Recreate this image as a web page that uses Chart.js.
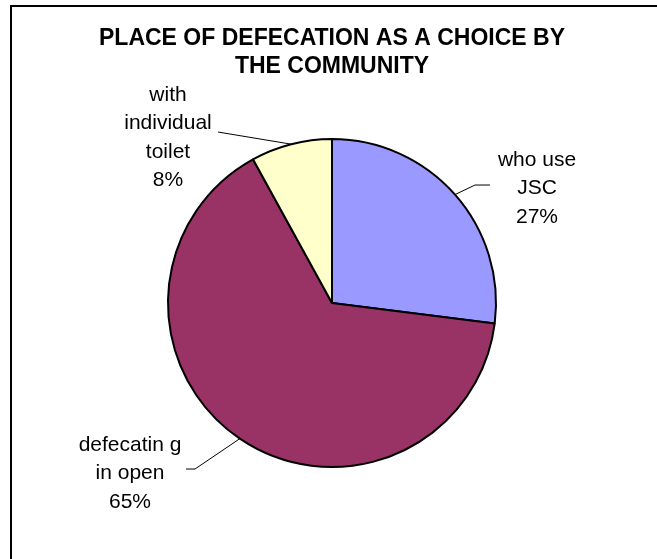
<!DOCTYPE html>
<html lang="en">
  <head>
    <meta charset="UTF-8" />
    <title>Place of defecation</title>
    <script src="https://cdn.jsdelivr.net/npm/chart.js@4.4.0/dist/chart.umd.min.js"></script>
    <style>
      body { margin: 0; background: #fff; }
    </style>
  </head>
  <body>
    <canvas id="myChart" width="657" height="559"></canvas>
    <script>
    // data
    const categories = ['who use JSC', 'defecatin g in open', 'with individual toilet'];
    const shares = [27, 65, 8];
    // how each label is broken into lines (before the % line)
    const labelLines = [['who use', 'JSC'], ['defecatin g', 'in open'], ['with', 'individual', 'toilet']];
    const sliceColors = ['#9999FF', '#993366', '#FFFFCC'];

    // label placement relative to the pie centre: text centre of first line, leader elbow, leader end
    const labelSpots = [
      { tx: 205, ty: -143, elbow: [143, -118], end: [158, -118] },
      { tx: -202, ty: 142, elbow: [-137, 166], end: [-146, 166] },
      { tx: -164, ty: -208, elbow: [-114, -171], end: [-114, -171] }
    ];

    const frame = {
      id: 'frame',
      beforeDraw(chart) {
        const ctx = chart.ctx;
        ctx.save();
        ctx.fillStyle = '#fff';
        ctx.fillRect(0, 0, chart.width, chart.height);
        ctx.strokeStyle = '#000';
        ctx.lineWidth = 2;
        ctx.beginPath();
        ctx.moveTo(11, chart.height);
        ctx.lineTo(11, 6);
        ctx.lineTo(chart.width, 6);
        ctx.stroke();
        ctx.restore();
      }
    };

    const sliceLabels = {
      id: 'sliceLabels',
      afterDatasetsDraw(chart) {
        const ctx = chart.ctx;
        const total = shares.reduce((a, b) => a + b, 0);
        chart.getDatasetMeta(0).data.forEach((arc, i) => {
          const p = arc.getProps(['x', 'y', 'startAngle', 'endAngle', 'outerRadius'], true);
          const mid = (p.startAngle + p.endAngle) / 2;
          const ex = p.x + Math.cos(mid) * p.outerRadius;
          const ey = p.y + Math.sin(mid) * p.outerRadius;
          const s = labelSpots[i];
          ctx.save();
          ctx.strokeStyle = '#000';
          ctx.lineWidth = 1;
          ctx.beginPath();
          ctx.moveTo(ex, ey);
          ctx.lineTo(p.x + s.elbow[0], p.y + s.elbow[1]);
          ctx.lineTo(p.x + s.end[0], p.y + s.end[1]);
          ctx.stroke();

          ctx.fillStyle = '#000';
          ctx.font = '21px "Liberation Sans", Arial, sans-serif';
          ctx.textAlign = 'center';
          ctx.textBaseline = 'middle';
          const lines = labelLines[i].concat([Math.round(shares[i] / total * 100) + '%']);
          lines.forEach((t, k) => {
            ctx.fillText(t, p.x + s.tx, p.y + s.ty + k * 28.5);
          });
          ctx.restore();
        });
      }
    };

    const ctx = document.getElementById('myChart').getContext('2d');
    const myChart = new Chart(ctx, {
      type: 'pie',
      data: {
        labels: categories,
        datasets: [{
          data: shares,
          backgroundColor: sliceColors,
          borderColor: '#000',
          borderWidth: 2
        }]
      },
      options: {
        responsive: false,
        animation: false,
        radius: 164,
        layout: { padding: { left: 7, right: 0, top: 0, bottom: 34 } },
        plugins: {
          legend: { display: false },
          tooltip: { enabled: false },
          title: {
            display: true,
            text: ['PLACE OF DEFECATION AS A CHOICE BY', 'THE COMMUNITY'],
            color: '#000',
            font: { family: '"Liberation Sans", Arial, sans-serif', size: 23, weight: 'bold', lineHeight: 1.24 },
            padding: { top: 24, bottom: 0 }
          }
        }
      },
      plugins: [frame, sliceLabels]
    });
    </script>
  </body>
</html>
